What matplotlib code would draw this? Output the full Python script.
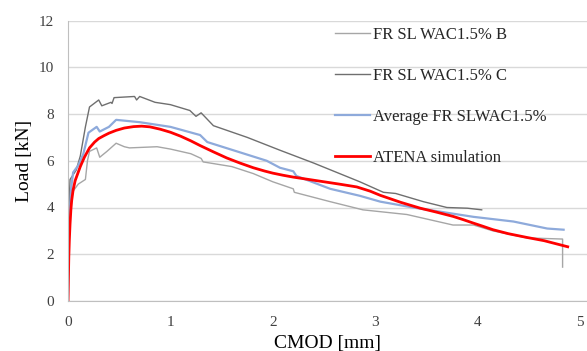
import matplotlib
matplotlib.use("Agg")
import matplotlib.pyplot as plt

plt.rcParams['font.family'] = ['Liberation Serif', 'DejaVu Serif']

# FR SLWAC1.5% B (lower gray)
b_x = [0, 0.01, 0.03, 0.05, 0.1, 0.17, 0.19, 0.21, 0.28, 0.31, 0.38, 0.47, 0.55, 0.6, 0.87, 1.0, 1.2, 1.3, 1.32,
       1.6, 1.81, 2.0, 2.2, 2.21, 2.56, 2.88, 3.31, 3.76, 3.96, 4.15, 4.48, 4.83, 4.83]
b_y = [0, 3.5, 4.4, 4.7, 5.0, 5.2, 6.0, 6.4, 6.55, 6.15, 6.4, 6.75, 6.6, 6.55, 6.6, 6.5, 6.3, 6.1, 5.95,
       5.75, 5.45, 5.1, 4.8, 4.65, 4.25, 3.9, 3.7, 3.25, 3.25, 3.0, 2.7, 2.65, 1.45]

# FR SLWAC1.5% C (upper gray)
c_x = [0, 0.01, 0.02, 0.08, 0.12, 0.17, 0.21, 0.3, 0.33, 0.42, 0.43, 0.45, 0.65, 0.67, 0.7, 0.85, 1.0, 1.19,
       1.25, 1.3, 1.42, 1.75, 2.07, 2.4, 2.85, 3.08, 3.2, 3.47, 3.7, 3.9, 4.04]
c_y = [0, 4.0, 5.2, 5.6, 6.2, 7.45, 8.3, 8.6, 8.35, 8.5, 8.45, 8.7, 8.75, 8.6, 8.75, 8.5, 8.4, 8.15,
       7.9, 8.05, 7.5, 7.0, 6.45, 5.9, 5.1, 4.65, 4.6, 4.25, 4.0, 3.97, 3.9]

# Average FR SLWAC1.5%
a_x = [0, 0.01, 0.03, 0.05, 0.1, 0.15, 0.2, 0.28, 0.31, 0.4, 0.47, 0.7, 1.0, 1.29, 1.36, 1.65, 1.94, 2.07, 2.2,
       2.23, 2.56, 2.85, 3.05, 3.37, 3.96, 4.35, 4.68, 4.84]
a_y = [0, 3.0, 4.8, 5.5, 5.8, 6.3, 7.2, 7.45, 7.25, 7.45, 7.75, 7.65, 7.45, 7.1, 6.8, 6.4, 6.0, 5.7, 5.55,
       5.35, 4.8, 4.5, 4.25, 4.0, 3.6, 3.4, 3.1, 3.05]

# ATENA simulation
r_x = [0, 0.004, 0.008, 0.013, 0.02, 0.028, 0.036, 0.05, 0.07, 0.095, 0.12, 0.16, 0.21, 0.26, 0.3, 0.35, 0.4,
       0.47, 0.55, 0.64, 0.72, 0.8, 0.9, 1.0, 1.1, 1.2, 1.29, 1.42, 1.55, 1.68, 1.81, 1.92, 2.0, 2.1, 2.2,
       2.35, 2.5, 2.65, 2.82, 2.95, 3.05, 3.25, 3.44, 3.6, 3.76, 3.86, 3.96, 4.05, 4.15, 4.3, 4.48, 4.65, 4.88]
r_y = [0, 1.0, 1.9, 2.6, 3.3, 3.9, 4.3, 4.75, 5.15, 5.45, 5.75, 6.15, 6.55, 6.8, 6.95, 7.07, 7.18,
       7.3, 7.4, 7.46, 7.48, 7.45, 7.35, 7.22, 7.05, 6.85, 6.65, 6.38, 6.12, 5.9, 5.7, 5.56, 5.47, 5.38, 5.3,
       5.2, 5.1, 5.0, 4.88, 4.7, 4.52, 4.22, 3.97, 3.8, 3.62, 3.48, 3.33, 3.2, 3.05, 2.88, 2.72, 2.58, 2.32]

x_ticks = [0, 1, 2, 3, 4, 5]
y_ticks = [0, 2, 4, 6, 8, 10, 12]

fig = plt.figure(figsize=(5.87, 3.51), dpi=100)
ax = fig.add_axes([68/587, 50/351, 1 - 68/587, 280.5/351])

ax.plot(b_x, b_y, color='#a6a6a6', lw=1.0, label='FR SL WAC1.5% B')
ax.plot(c_x, c_y, color='#6f6f6f', lw=1.0, label='FR SL WAC1.5% C')
ax.plot(a_x, a_y, color='#8eaadb', lw=1.6, label='Average FR SLWAC1.5%')
ax.plot(r_x, r_y, color='#ff0000', lw=2.0, label='ATENA simulation')

ax.set_xlim(0, 519/102.4)
ax.set_ylim(0, 12)
ax.set_xticks(x_ticks)
ax.set_yticks(y_ticks)
ax.grid(axis='y', color='#d9d9d9', lw=1.0)
ax.set_axisbelow(True)
for s in ['top', 'right']:
    ax.spines[s].set_visible(False)
for s in ['left', 'bottom']:
    ax.spines[s].set_color('#bfbfbf')
ax.tick_params(length=0, labelsize=11, colors='#404040')
ax.tick_params(axis='x', pad=11)
ax.tick_params(axis='y', pad=10)
ax.set_xlabel('CMOD [mm]', fontsize=14, labelpad=4)
ax.set_ylabel('Load [kN]', fontsize=14, labelpad=4)

leg = ax.legend(loc='upper left', bbox_to_anchor=(0.485, 1.031), frameon=False, fontsize=12,
                handlelength=2.1, labelspacing=1.5, handletextpad=0.2)
for t in leg.get_texts():
    t.set_color('#262626')

fig.savefig('out.png', dpi=100)
